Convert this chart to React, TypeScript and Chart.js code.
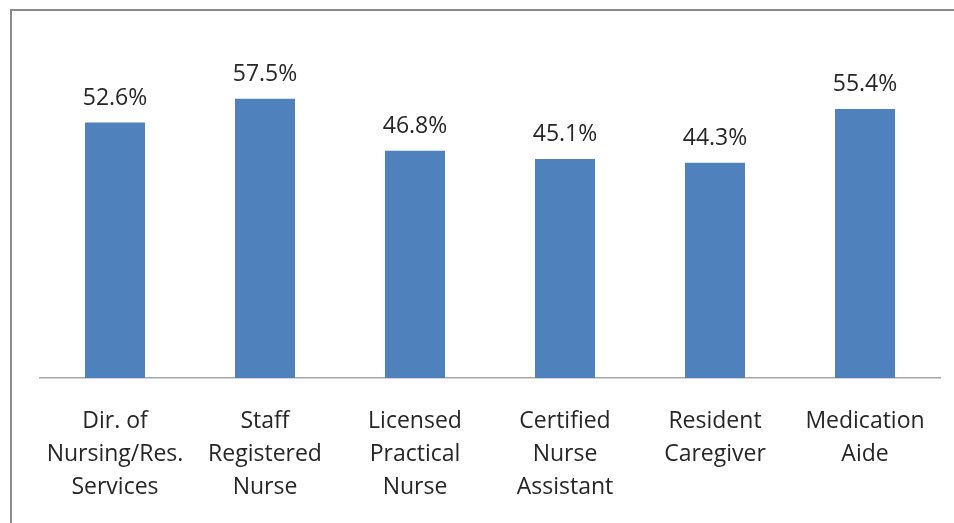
import React, { useEffect, useRef } from "react";
import { Chart, registerables } from "chart.js";

Chart.register(...registerables);

const categories: string[][] = [
  ["Dir. of", "Nursing/Res.", "Services"],
  ["Staff", "Registered", "Nurse"],
  ["Licensed", "Practical", "Nurse"],
  ["Certified", "Nurse", "Assistant"],
  ["Resident", "Caregiver"],
  ["Medication", "Aide"],
];
const values: number[] = [52.6, 57.5, 46.8, 45.1, 44.3, 55.4];
const FONT = "'Open Sans', 'Noto Sans', sans-serif";

const labelPlugin = {
  id: "valueLabels",
  afterDatasetsDraw(chart: any) {
    const ctx = chart.ctx;
    const meta = chart.getDatasetMeta(0);
    ctx.save();
    ctx.font = `23px ${FONT}`;
    ctx.fillStyle = "#262626";
    ctx.textAlign = "center";
    ctx.textBaseline = "alphabetic";
    meta.data.forEach((bar: any, i: number) => {
      ctx.fillText(values[i].toFixed(1) + "%", bar.x, bar.y - 18);
    });
    ctx.restore();
  },
};

export default function App() {
  const ref = useRef<HTMLCanvasElement | null>(null);
  useEffect(() => {
    if (!ref.current) return;
    const chart = new Chart(ref.current, {
      type: "bar",
      data: {
        labels: categories,
        datasets: [
          {
            data: values,
            backgroundColor: "#4F81BD",
            barPercentage: 0.4,
            categoryPercentage: 1,
          },
        ],
      },
      options: {
        animation: false,
        responsive: false,
        maintainAspectRatio: false,
        layout: { padding: { left: 40, right: 14, top: 38, bottom: 0 } },
        plugins: { legend: { display: false }, tooltip: { enabled: false } },
        scales: {
          y: { display: false, min: 0, max: 70 },
          x: {
            grid: { display: false, drawTicks: false },
            border: { display: true, color: "#A6A6A6", width: 1.5 },
            ticks: {
              padding: 27,
              color: "#262626",
              maxRotation: 0,
              autoSkip: false,
              font: { family: FONT, size: 23, lineHeight: 33 / 23 },
            },
            afterFit: (s: any) => {
              s.height = 145;
            },
          },
        },
      },
      plugins: [labelPlugin],
    });
    return () => chart.destroy();
  }, []);
  return (
    <div style={{ position: "fixed", left: 0, top: 0, width: 954, height: 523, background: "#fff", overflow: "hidden" }}>
      <div
        style={{
          position: "absolute",
          left: 10,
          top: 9,
          width: 1000,
          height: 600,
          borderLeft: "2px solid #8a8a8a",
          borderTop: "2px solid #8a8a8a",
        }}
      />
      <canvas ref={ref} width={954} height={523} style={{ position: "absolute", left: 0, top: 0 }} />
    </div>
  );
}
